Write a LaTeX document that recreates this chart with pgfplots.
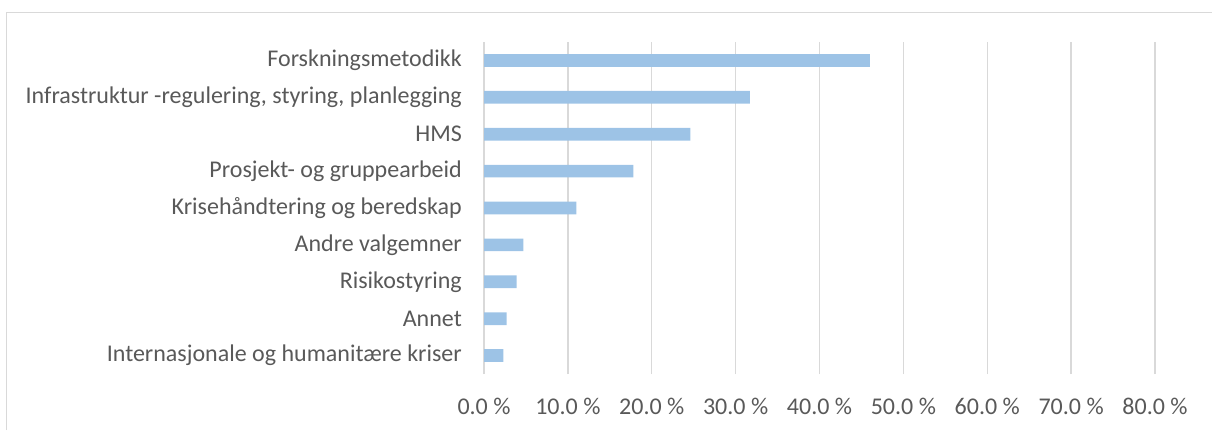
\documentclass[border=0pt]{standalone}
\usepackage{pgfplots}
\pgfplotsset{compat=1.18}
\usepackage{fontspec}
\setmainfont{Carlito}
\definecolor{barblue}{RGB}{157,195,230}
\definecolor{gridgray}{RGB}{217,217,217}
\definecolor{txtgray}{RGB}{89,89,89}
\begin{document}
\begin{tikzpicture}[x=1bp,y=1bp]
\path[use as bounding box] (0,0) rectangle (1212,430);
\draw[gridgray, line width=1bp] (6.5,0) -- (6.5,417.5) -- (1212,417.5);
\begin{axis}[
  at={(484bp,56bp)}, anchor=south west,
  scale only axis, width=671bp, height=332bp,
  xmin=0, xmax=80, ymin=-0.5, ymax=8.5,
  xbar, bar width=12.7bp, bar shift=0pt,
  axis line style={draw=none},
  xtick={0,10,...,80},
  xticklabels={0.0 \%,10.0 \%,20.0 \%,30.0 \%,40.0 \%,50.0 \%,60.0 \%,70.0 \%,80.0 \%},
  ytick={0,...,8},
  yticklabels={Internasjonale og humanitære kriser,Annet,Risikostyring,Andre valgemner,Krisehåndtering og beredskap,Prosjekt- og gruppearbeid,HMS,{Infrastruktur -regulering, styring, planlegging},Forskningsmetodikk},
  xmajorgrids, major grid style={gridgray, line width=1.3bp},
  major tick length=0pt,
  tick label style={font=\fontsize{24bp}{28bp}\selectfont, text=txtgray, inner sep=0pt},
  xticklabel style={anchor=north, yshift=-23.5bp},
  yticklabel style={anchor=east, xshift=-22bp},
  clip=false,
]
\addplot[fill=barblue, draw=none] coordinates {
  (2.3,0) (2.7,1) (3.9,2) (4.7,3) (11.0,4) (17.8,5) (24.6,6) (31.7,7) (46.0,8)
};
\end{axis}
\end{tikzpicture}
\end{document}
